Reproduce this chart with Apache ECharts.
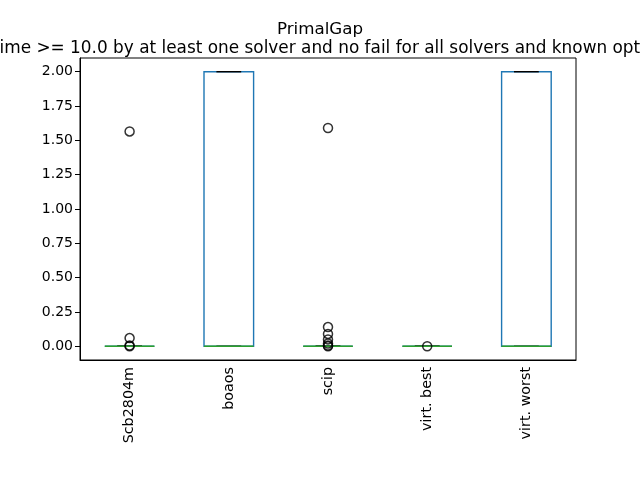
<!DOCTYPE html>
<html>
<head>
<meta charset="utf-8">
<script src="https://cdn.jsdelivr.net/npm/echarts@6/dist/echarts.min.js"></script>
<style>
  html, body { margin: 0; padding: 0; background: #fff; }
  #main { width: 640px; height: 480px; }
</style>
</head>
<body>
<div id="main"></div>
<script>
// box statistics per solver
var solvers = ['Scb2804m', 'boaos', 'scip', 'virt. best', 'virt. worst'];
var whiskerLow = [0, 0, 0, 0, 0];
var q1 = [0, 0, 0, 0, 0];
var median = [0, 0, 0, 0, 0];
var q3 = [0, 2, 0, 0, 2];
var whiskerHigh = [0, 2, 0, 0, 2];

// outliers
var fliersScb = [1.565, 0.06, 0.005, 0.0];
var fliersBoaos = [];
var fliersScip = [1.59, 0.14, 0.09, 0.05, 0.02, 0.005, 0.0];
var fliersBest = [0.0];
var fliersWorst = [];

var yTicks = [0, 0.25, 0.5, 0.75, 1.0, 1.25, 1.5, 1.75, 2.0];

var titleText = 'PrimalGap';
var subText = 'Runtime >= 10.0 by at least one solver and no fail for all solvers and known optimum';

var BLUE = '#1f77b4', GREEN = '#2ca02c';

var boxData = solvers.map(function (s, i) {
    return [i, whiskerLow[i], q1[i], median[i], q3[i], whiskerHigh[i]];
});

var flierData = [];
[fliersScb, fliersBoaos, fliersScip, fliersBest, fliersWorst].forEach(function (arr, i) {
    arr.forEach(function (v) { flierData.push([i, v]); });
});

function renderBox(params, api) {
    var idx = api.value(0);
    var band = api.size([1, 0])[0];
    var half = band * 0.25;
    var capHalf = band * 0.125;
    var x = api.coord([idx, api.value(3)])[0];
    var yLo = api.coord([idx, api.value(1)])[1];
    var yQ1 = api.coord([idx, api.value(2)])[1];
    var yMed = api.coord([idx, api.value(3)])[1];
    var yQ3 = api.coord([idx, api.value(4)])[1];
    var yHi = api.coord([idx, api.value(5)])[1];
    var lw = 1.4;
    function line(x1, y1, x2, y2, color) {
        return { type: 'line', shape: { x1: x1, y1: y1, x2: x2, y2: y2 },
                 style: { stroke: color, lineWidth: lw } };
    }
    return {
        type: 'group',
        children: [
            line(x, yQ1, x, yLo, BLUE),
            line(x, yQ3, x, yHi, BLUE),
            { type: 'rect', shape: { x: x - half, y: yQ3, width: half * 2, height: yQ1 - yQ3 },
              style: { fill: 'none', stroke: BLUE, lineWidth: lw } },
            line(x - capHalf, yLo, x + capHalf, yLo, '#000'),
            line(x - capHalf, yHi, x + capHalf, yHi, '#000'),
            line(x - half, yMed, x + half, yMed, GREEN)
        ]
    };
}

var myChart = echarts.init(document.getElementById('main'));
var option = {
    animation: false,
    backgroundColor: '#fff',
    textStyle: { fontFamily: 'DejaVu Sans' },
    title: [{
        text: titleText,
        left: 'center',
        top: 16,
        textStyle: { fontFamily: 'DejaVu Sans', fontSize: 16.7, fontWeight: 'normal', color: '#000' }
    }, {
        text: subText,
        left: 319.5,
        textAlign: 'center',
        top: 35,
        textStyle: { fontFamily: 'DejaVu Sans', fontSize: 16.9, fontWeight: 'normal', color: '#000' }
    }],
    grid: {
        left: 80, right: 64, top: 58, bottom: 120,
        show: true, borderColor: '#000', borderWidth: 1, backgroundColor: 'transparent'
    },
    xAxis: {
        type: 'category',
        data: solvers,
        boundaryGap: true,
        axisLine: { onZero: false, lineStyle: { color: '#000', width: 1 } },
        axisTick: { alignWithLabel: true, length: 5, lineStyle: { color: '#000' } },
        axisLabel: { rotate: 90, color: '#000', fontSize: 14.3, margin: 7, fontFamily: 'DejaVu Sans' },
        splitLine: { show: false }
    },
    yAxis: {
        type: 'value',
        min: -0.1,
        max: 2.1,
        axisLine: { show: true, lineStyle: { color: '#000', width: 1 } },
        axisTick: { show: true, length: 5, lineStyle: { color: '#000' }, customValues: yTicks },
        axisLabel: {
            color: '#000', fontSize: 14, margin: 7, fontFamily: 'DejaVu Sans',
            customValues: yTicks,
            formatter: function (v) { return v.toFixed(2); }
        },
        splitLine: { show: false }
    },
    series: [{
        type: 'custom',
        renderItem: renderBox,
        data: boxData,
        encode: { x: 0, y: [1, 2, 3, 4, 5] },
        z: 2
    }, {
        type: 'scatter',
        data: flierData,
        symbol: 'circle',
        symbolSize: 9,
        itemStyle: { color: 'rgba(0,0,0,0)', borderColor: '#000', borderWidth: 1.5 },
        z: 3
    }]
};
myChart.setOption(option);
</script>
</body>
</html>
